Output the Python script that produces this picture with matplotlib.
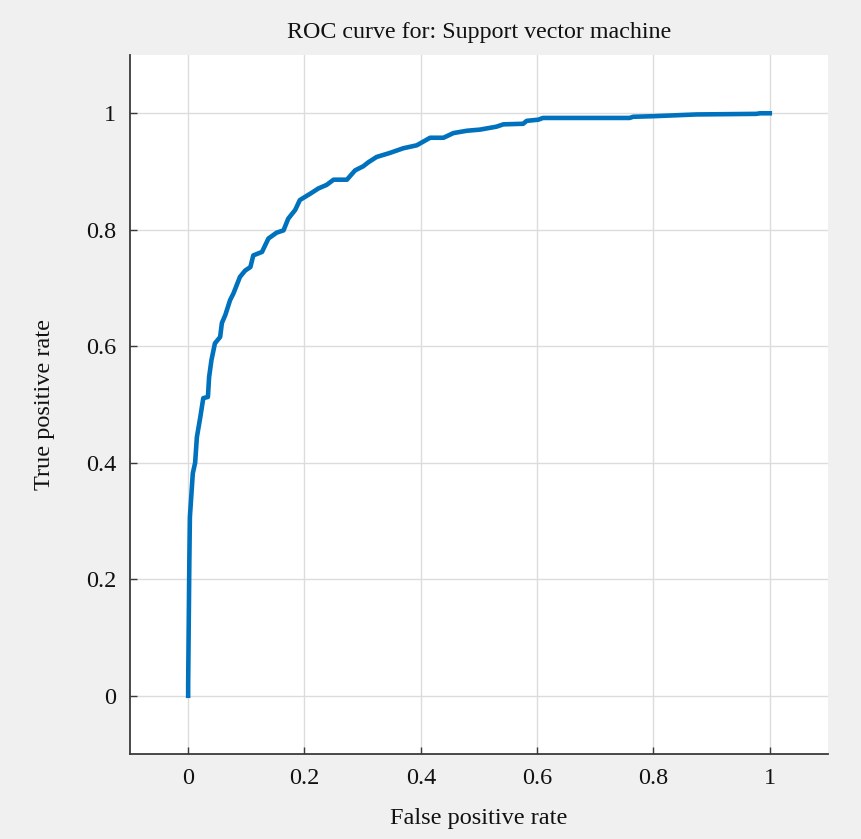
import matplotlib
matplotlib.use('Agg')
import matplotlib.pyplot as plt

# ROC points
fpr = [0.0, 0.0, 0.002, 0.003, 0.008, 0.012, 0.015, 0.021, 0.026, 0.034,
       0.036, 0.040, 0.046, 0.055, 0.058, 0.064, 0.072, 0.078, 0.089, 0.098,
       0.107, 0.112, 0.127, 0.138, 0.152, 0.164, 0.172, 0.184, 0.192, 0.210,
       0.224, 0.238, 0.250, 0.273, 0.287, 0.301, 0.310, 0.324, 0.347, 0.370,
       0.393, 0.416, 0.439, 0.456, 0.479, 0.502, 0.530, 0.542, 0.576, 0.582,
       0.602, 0.610, 0.759, 0.765, 0.800, 0.874, 0.977, 0.983, 1.0]
tpr = [0.0, 0.019, 0.228, 0.307, 0.382, 0.400, 0.444, 0.479, 0.511, 0.513,
       0.547, 0.576, 0.605, 0.616, 0.640, 0.654, 0.679, 0.691, 0.719, 0.730,
       0.736, 0.756, 0.762, 0.785, 0.795, 0.799, 0.819, 0.834, 0.851, 0.862,
       0.871, 0.877, 0.886, 0.886, 0.902, 0.909, 0.916, 0.925, 0.932, 0.940,
       0.945, 0.958, 0.958, 0.966, 0.970, 0.972, 0.977, 0.981, 0.982, 0.987,
       0.989, 0.992, 0.992, 0.994, 0.995, 0.998, 0.999, 1.0, 1.0]

ticks = [0, 0.2, 0.4, 0.6, 0.8, 1]
tick_labels = ['0', '0.2', '0.4', '0.6', '0.8', '1']

plt.rcParams['font.family'] = ['Liberation Serif', 'DejaVu Serif']

fig = plt.figure(figsize=(8.62, 8.39), dpi=100, facecolor='#f0f0f0')
ax = fig.add_axes([0.1508, 0.1013, 0.8097, 0.8331])
ax.set_facecolor('white')

ax.plot(fpr, tpr, color='#0072BD', linewidth=3.3, solid_joinstyle='round')

ax.set_xlim(-0.1, 1.1)
ax.set_ylim(-0.1, 1.1)
ax.set_xticks(ticks)
ax.set_xticklabels(tick_labels)
ax.set_yticks(ticks)
ax.set_yticklabels(tick_labels)

ax.grid(True, color='#dcdcdc', linewidth=1.0)
ax.set_axisbelow(True)

for side in ['top', 'right']:
    ax.spines[side].set_visible(False)
for side in ['left', 'bottom']:
    ax.spines[side].set_color('#3a3a3a')
    ax.spines[side].set_linewidth(1.3)

ax.tick_params(direction='in', length=5, width=1, colors='#3a3a3a',
               labelcolor='#111111', labelsize=17.5, pad=10)

ax.set_title('ROC curve for: Support vector machine', fontsize=17.3, pad=12,
             color='#111111')
ax.set_xlabel('False positive rate', fontsize=17.5, labelpad=14, color='#111111')
ax.set_ylabel('True positive rate', fontsize=17.5, labelpad=22, color='#111111')

fig.savefig('out.png', dpi=100, facecolor=fig.get_facecolor())
